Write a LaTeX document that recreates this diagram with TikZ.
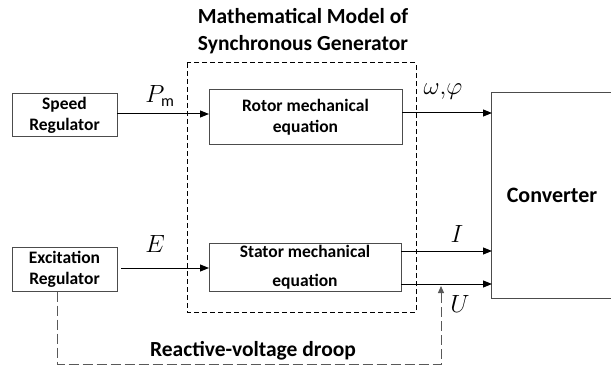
\documentclass[tikz,border=0pt]{standalone}
\usepackage{fontspec}
\setmainfont{Carlito}
\usetikzlibrary{arrows.meta}
\begin{document}
\begin{tikzpicture}[x=1pt,y=-1pt,
  blk/.style={draw=black!70, line width=1pt, inner sep=0pt},
  sig/.style={line width=1pt, -{Triangle[length=9pt,width=7pt]}},
  lbl/.style={font=\fontsize{17.5}{21}\selectfont\bfseries, align=center},
  ml/.style={font=\fontsize{23}{23}\selectfont}]
\useasboundingbox (0,0) rectangle (611,369);
% blocks
\node[blk, minimum width=105pt, minimum height=43pt, lbl] (sr) at (64.5,115) {Speed\\Regulator};
\node[blk, minimum width=105pt, minimum height=44pt, lbl] (er) at (64.5,269) {Excitation\\Regulator};
\node[blk, minimum width=193pt, minimum height=54pt, lbl] (rot) at (305.5,117) {Rotor mechanical\\equation};
\node[blk, minimum width=192pt, minimum height=48pt, lbl, font=\fontsize{17.5}{29}\selectfont\bfseries] (sta) at (305,267) {Stator mechanical\\equation};
\node[blk, minimum width=122pt, minimum height=205pt, font=\fontsize{22}{24}\selectfont\bfseries] (conv) at (552,195.5) {Converter};
% dashed model box
\draw[line width=1pt, dash pattern=on 5pt off 3pt] (187,63) rectangle (416,312);
\node[font=\fontsize{21.5}{27}\selectfont\bfseries, align=center] (title) at (303,31.5) {Mathematical Model of\\Synchronous Generator};
% signals
\coordinate (pmA) at (117,114);
\coordinate (pmB) at (209,114);
\draw[sig] (pmA) -- (pmB);
\node[ml] (pm) at (160,96) {$P_{\mathrm{m}}$};
\coordinate (eA) at (121,268);
\coordinate (eB) at (209,268);
\draw[sig] (eA) -- (eB);
\node[ml] (e) at (155,244) {$E$};
\coordinate (wA) at (402,113);
\coordinate (wB) at (492,113);
\draw[sig] (wA) -- (wB);
\node[ml] (w) at (443,92) {$\omega,\!\varphi$};
\coordinate (iA) at (401,251);
\coordinate (iB) at (492,251);
\draw[sig] (iA) -- (iB);
\node[ml] (i) at (457,234) {$I$};
\coordinate (uA) at (401,284);
\coordinate (uB) at (492,284);
\draw[sig] (uA) -- (uB);
\node[ml] (u) at (460,304) {$U$};
% feedback
\coordinate (fb1) at (57,364);
\coordinate (fb2) at (441,364);
\coordinate (fb3) at (441,286);
\draw[black!65, line width=1pt, dash pattern=on 10pt off 4pt, -{Triangle[length=7pt,width=6pt]}] (er.south -| fb1) -- (fb1) -- (fb2) -- (fb3);
\node[font=\fontsize{21.5}{24}\selectfont\bfseries] (droop) at (253,351) {Reactive-voltage droop};
\end{tikzpicture}
\end{document}
